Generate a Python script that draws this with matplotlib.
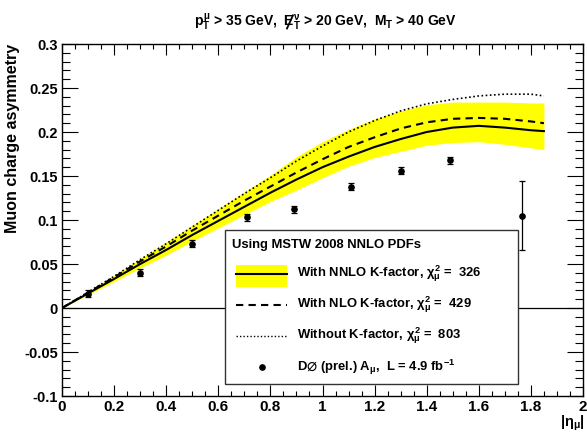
import matplotlib
matplotlib.use('Agg')
import matplotlib.pyplot as plt
from matplotlib.ticker import MultipleLocator, FuncFormatter
from matplotlib.patches import Rectangle
from matplotlib.lines import Line2D

plt.rcParams['font.family'] = ['Liberation Sans', 'DejaVu Sans']
plt.rcParams['font.weight'] = 'bold'
plt.rcParams['mathtext.fontset'] = 'custom'
plt.rcParams['mathtext.rm'] = 'Liberation Sans:bold'
plt.rcParams['mathtext.it'] = 'Liberation Sans:bold'
plt.rcParams['mathtext.bf'] = 'Liberation Sans:bold'

# theory curves vs |eta_mu|
eta = [0.0, 0.1, 0.2, 0.3, 0.4, 0.5, 0.6, 0.7, 0.8, 0.9, 1.0,
       1.1, 1.2, 1.3, 1.4, 1.5, 1.6, 1.7, 1.8, 1.85]
nnlo = [0.0, 0.0166, 0.033, 0.050, 0.066, 0.083, 0.099, 0.115, 0.131, 0.146, 0.160,
        0.172, 0.183, 0.192, 0.200, 0.205, 0.207, 0.205, 0.202, 0.201]
nnlo_hi = [0.0, 0.0186, 0.037, 0.056, 0.075, 0.094, 0.113, 0.132, 0.151, 0.172, 0.189,
           0.203, 0.215, 0.224, 0.231, 0.234, 0.234, 0.234, 0.233, 0.233]
nnlo_lo = [0.0, 0.0151, 0.030, 0.0455, 0.060, 0.076, 0.091, 0.106, 0.121, 0.134, 0.148,
           0.161, 0.171, 0.178, 0.185, 0.188, 0.189, 0.186, 0.182, 0.180]
nlo = [0.0, 0.0175, 0.035, 0.053, 0.070, 0.088, 0.105, 0.122, 0.138, 0.154, 0.169,
       0.183, 0.194, 0.204, 0.211, 0.215, 0.216, 0.215, 0.212, 0.210]
lo = [0.0, 0.018, 0.036, 0.055, 0.073, 0.092, 0.111, 0.130, 0.148, 0.167, 0.184,
      0.200, 0.213, 0.224, 0.232, 0.237, 0.241, 0.243, 0.243, 0.241]

# D0 data
d0_eta = [0.1, 0.3, 0.5, 0.71, 0.89, 1.11, 1.30, 1.49, 1.765]
d0_asym = [0.016, 0.040, 0.073, 0.103, 0.112, 0.138, 0.156, 0.168, 0.105]
d0_err = [0.004, 0.004, 0.004, 0.004, 0.004, 0.004, 0.004, 0.004, 0.039]

W, H = 587, 436
fig = plt.figure(figsize=(W / 100, H / 100), dpi=100)
ax = fig.add_axes([62 / W, 40 / H, 521 / W, 352 / H])

ax.fill_between(eta, nnlo_lo, nnlo_hi, color='#ffff00', lw=0, zorder=1)
ax.plot(eta, nnlo, color='black', lw=1.5, zorder=3)
ax.plot(eta, nlo, color='black', lw=1.5, ls=(0, (3.5, 2.5)), zorder=3)
ax.plot(eta, lo, color='black', lw=1.2, ls=(0, (1, 1.5)), zorder=3)
ax.axhline(0, color='black', lw=0.9, zorder=2)
ax.errorbar(d0_eta, d0_asym, yerr=d0_err, fmt='o', color='black', ms=3.8,
            elinewidth=0.9, capsize=2, capthick=0.9, zorder=4)

ax.set_xlim(0, 2)
ax.set_ylim(-0.1, 0.3)
ax.xaxis.set_major_locator(MultipleLocator(0.2))
ax.xaxis.set_minor_locator(MultipleLocator(0.05))
ax.yaxis.set_major_locator(MultipleLocator(0.05))
ax.yaxis.set_minor_locator(MultipleLocator(0.01))
fmt = FuncFormatter(lambda v, p: '%g' % round(v, 3))
ax.xaxis.set_major_formatter(fmt)
ax.yaxis.set_major_formatter(fmt)
ax.tick_params(which='both', direction='in', top=True, right=True, width=0.8)
ax.tick_params(axis='x', which='major', length=7.6, pad=3, labelsize=11)
ax.tick_params(axis='x', which='minor', length=3.8)
ax.tick_params(axis='y', which='major', length=11.2, pad=3, labelsize=10.5)
ax.tick_params(axis='y', which='minor', length=5.6)
for s in ax.spines.values():
    s.set_linewidth(1.0)

fig.text(13 / W, 1 - 44 / H, 'Muon charge asymmetry', rotation=90,
         ha='center', va='top', fontsize=11.5, fontweight='bold')
fig.text(585 / W, 1 - 414 / H, r'$|\eta_{\mu}|$', ha='right', va='top', fontsize=10.5)

# title with slashed E
fs_title = 10
x0, yb = 194 / W, 1 - 27 / H
tprops = dict(fontsize=fs_title, fontweight='bold', va='baseline', ha='left')
prefix = r'$p^{\mu}_{T}$ > 35 GeV,  '
rest = r'E$^{\nu}_{T}$ > 20 GeV,  M$_{T}$ > 40 GeV'
fig.text(x0, yb, prefix + rest, **tprops)
rend = fig.canvas.get_renderer()
tmp = fig.text(x0, yb, prefix + 'E', **tprops)
w1 = tmp.get_window_extent(rend).width
tmp.remove()
tmp = fig.text(x0, yb, 'E', **tprops)
wE = tmp.get_window_extent(rend).width
tmp.remove()
xc = x0 * W + w1 - wE / 2
cap = 0.73 * fs_title * 100 / 72
ybp = yb * H
fig.add_artist(Line2D([(xc - 3) / W, (xc + 3) / W],
                      [(ybp - 1.5) / H, (ybp + cap + 1.5) / H],
                      transform=fig.transFigure, color='black', lw=1.3))

# legend box
def px(x):
    return (x - 62) / 521

def py(y):
    return (396 - y) / 352

tr = ax.transAxes
ax.add_patch(Rectangle((px(225), py(384)), px(518) - px(225), py(230) - py(384),
                       transform=tr, fc='white', ec='#333333', lw=1.0, zorder=5))
ax.text(px(232), py(245), 'Using MSTW 2008 NNLO PDFs', transform=tr,
        fontsize=9.4, fontweight='bold', va='center', ha='left', zorder=6)
rows = [py(274), py(305), py(336), py(367)]
labels = [r'With NNLO K-factor, $\chi^{2}_{\mu}$ =  326',
          r'With NLO K-factor, $\chi^{2}_{\mu}$ =  429',
          r'Without K-factor, $\chi^{2}_{\mu}$ =  803',
          r'D$\varnothing$ (prel.) A$_{\mu}$,  L = 4.9 fb$^{-1}$']
for yy, lab in zip(rows, labels):
    ax.text(px(297), yy, lab, transform=tr, fontsize=9.4, fontweight='bold',
            va='center', ha='left', zorder=6)
ax.add_patch(Rectangle((px(236), py(287)), px(287) - px(236), py(265) - py(287),
                       transform=tr, fc='#ffff00', lw=0, zorder=6))
ax.add_line(Line2D([px(236), px(287)], [rows[0], rows[0]], transform=tr,
                   color='black', lw=1.5, zorder=7))
ax.add_line(Line2D([px(236), px(287)], [rows[1], rows[1]], transform=tr,
                   color='black', lw=1.5, ls=(0, (3.5, 2.5)), zorder=7))
ax.add_line(Line2D([px(236), px(287)], [rows[2], rows[2]], transform=tr,
                   color='black', lw=1.0, ls=(0, (1, 1.5)), zorder=7))
ax.add_line(Line2D([px(262)], [rows[3]], transform=tr, marker='o', ms=3.8,
                   color='black', zorder=7))

fig.savefig('out.png', dpi=100)
